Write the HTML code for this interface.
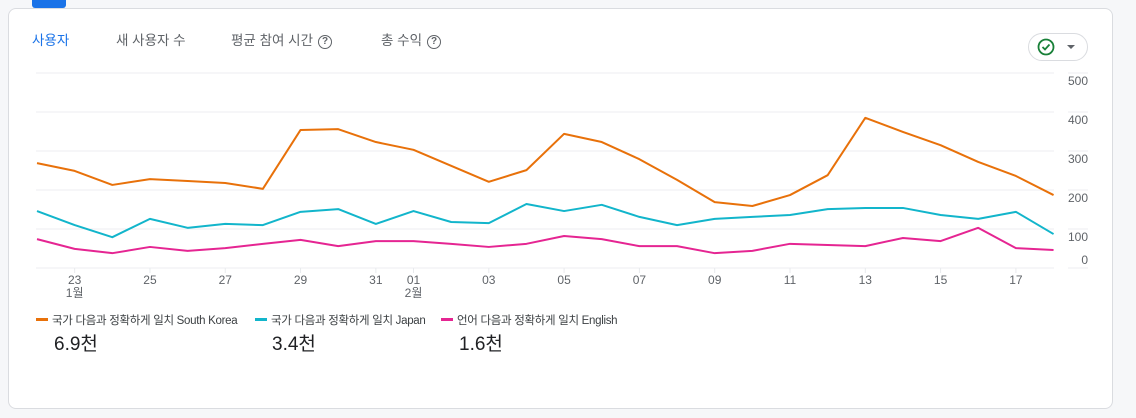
<!DOCTYPE html>
<html><head><meta charset="utf-8"><style>
body{margin:0;width:1136px;height:418px;background:#f6f7f9;font-family:"Liberation Sans","Noto Sans CJK KR",sans-serif;position:relative;overflow:hidden}
.card{position:absolute;left:8px;top:8px;width:1103px;height:399px;background:#fff;border:1px solid #dadce0;border-radius:8px}
.tab{position:absolute;top:29px;font-size:13.5px;color:#5f6368}
.q{display:inline-block;width:12px;height:12px;border:1.5px solid #5f6368;border-radius:50%;font-size:10px;line-height:12px;text-align:center;margin-left:5px;vertical-align:1px;font-weight:bold}
.leg{position:absolute;top:312px;font-size:11.5px;color:#3c4043;letter-spacing:-0.3px;white-space:nowrap}
.leg i{display:inline-block;width:12px;height:3px;vertical-align:3px;margin-right:4px}
.val{position:absolute;top:329px;font-size:19px;color:#202124}
</style></head><body>
<div class="card"></div>
<div style="position:absolute;left:32px;top:0;width:34px;height:8px;background:#1a73e8;border-radius:0 0 3px 3px"></div>
<div class="tab" style="left:32px;color:#1a73e8">사용자</div>
<div class="tab" style="left:116px">새 사용자 수</div>
<div class="tab" style="left:231px">평균 참여 시간<span class="q">?</span></div>
<div class="tab" style="left:381px">총 수익<span class="q">?</span></div>
<div style="position:absolute;left:1028px;top:33px;width:58px;height:26px;border:1px solid #dadce0;border-radius:14px;background:#fff">
<svg width="58" height="26"><circle cx="17" cy="13" r="7.5" fill="none" stroke="#188038" stroke-width="1.8"/><path d="M13.5 13l2.5 2.5 4.5-5" fill="none" stroke="#188038" stroke-width="1.8"/><path d="M38 11h8l-4 4z" fill="#5f6368"/></svg></div>
<svg id="chart" width="1136" height="418" style="position:absolute;left:0;top:0"></svg>
<div class="leg" style="left:36px"><i style="background:#e8710a"></i>국가 다음과 정확하게 일치 South Korea</div>
<div class="leg" style="left:255px"><i style="background:#12b5cb"></i>국가 다음과 정확하게 일치 Japan</div>
<div class="leg" style="left:441px"><i style="background:#e52592"></i>언어 다음과 정확하게 일치 English</div>
<div class="val" style="left:54px">6.9천</div>
<div class="val" style="left:272px">3.4천</div>
<div class="val" style="left:459px">1.6천</div>
<script>
const dates=["22","23","24","25","26","27","28","29","30","31","01","02","03","04","05","06","07","08","09","10","11","12","13","14","15","16","17","18"];
const koreaValues=[269,249,213,228,223,218,203,354,356,323,303,262,221,251,344,323,279,226,169,159,187,238,385,349,315,272,236,187];
const japanValues=[146,110,79,126,103,113,110,144,151,113,146,118,115,164,146,162,131,110,126,131,136,151,154,154,136,126,144,87];
const englishValues=[74,49,38,54,44,51,62,72,56,69,69,62,54,62,82,74,56,56,38,44,62,59,56,77,69,103,51,46];
const yTicks=[0,100,200,300,400,500];
const xLabelIdx=[1,3,5,7,9,10,12,14,16,18,20,22,24,26];
const monthLabels={1:"1월",10:"2월"};
const svg=document.getElementById('chart');const NS='http://www.w3.org/2000/svg';
const x=i=>37+i*37.65;const y=v=>268-v*0.39;
function mk(t,a){const e=document.createElementNS(NS,t);for(const k in a)e.setAttribute(k,a[k]);svg.appendChild(e);return e;}
yTicks.forEach(t=>{const g=mk('line',{x1:36,x2:1054,y1:y(t),y2:y(t),stroke:'#eceef1','stroke-width':1});


mk('line',{x1:1068,x2:1088,y1:y(t),y2:y(t),stroke:'#eceef1','stroke-width':1});
const tx=mk('text',{x:1088,y:t===0?y(t)-4:y(t)+12,'text-anchor':'end','font-size':12,fill:'#5f6368'});tx.textContent=t;

});
xLabelIdx.forEach(i=>{mk('line',{x1:x(i),x2:x(i),y1:268,y2:273,stroke:'#e8eaed'});
const tx=mk('text',{x:x(i),y:284,'text-anchor':'middle','font-size':12,fill:'#5f6368'});tx.textContent=dates[i];


if(monthLabels[i]){const m=mk('text',{x:x(i),y:297,'text-anchor':'middle','font-size':12,fill:'#5f6368'});m.textContent=monthLabels[i];

}});
[[englishValues,'#e52592','english'],[japanValues,'#12b5cb','japan'],[koreaValues,'#e8710a','south-korea']].forEach(([d,c,n])=>{
const p=mk('polyline',{points:d.map((v,i)=>x(i)+','+y(v)).join(' '),fill:'none',stroke:c,'stroke-width':2,'stroke-linejoin':'round'});

});
</script>
</body></html>
